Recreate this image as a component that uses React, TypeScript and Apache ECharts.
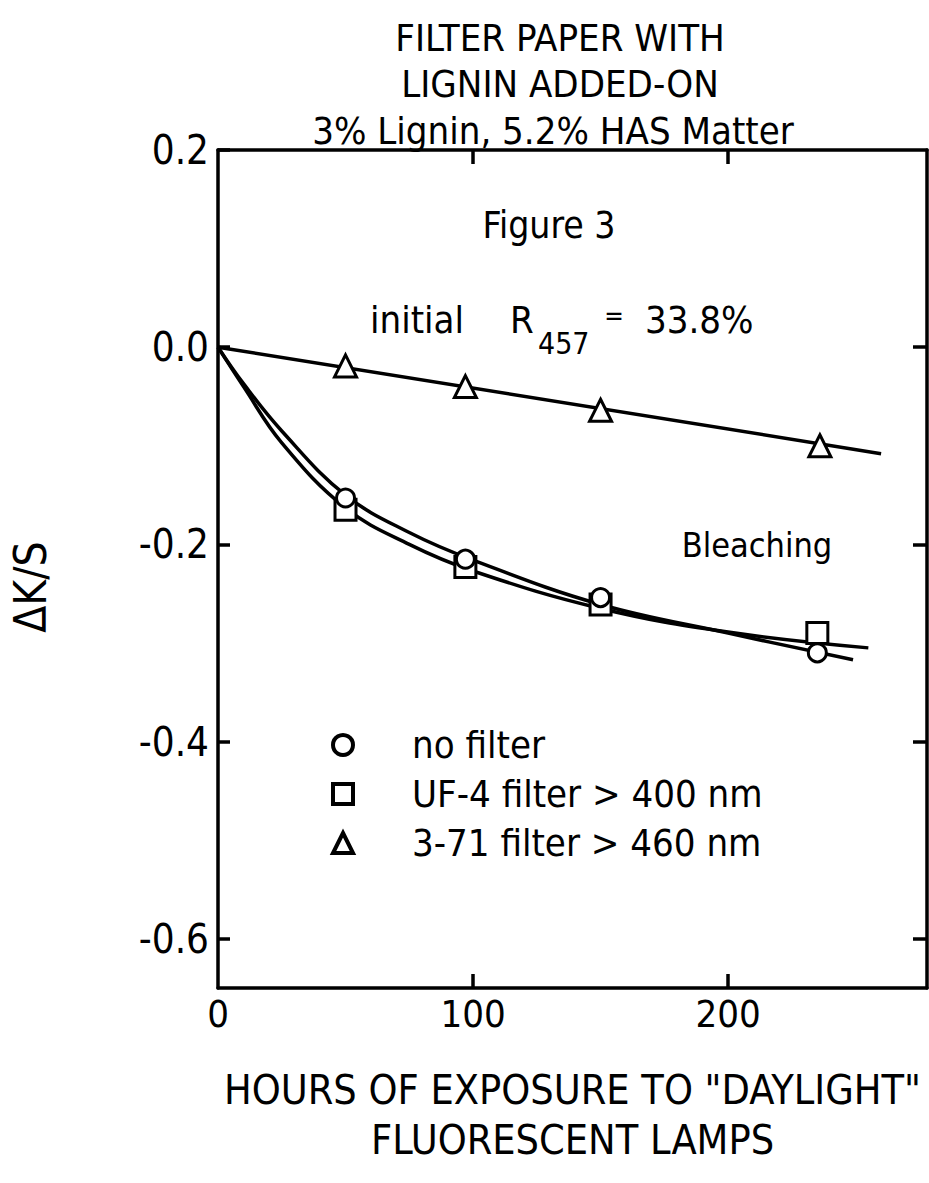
import React, { useEffect, useRef } from "react";
import * as echarts from "echarts";

const FONT = "'DejaVu Sans Condensed', 'DejaVu Sans', sans-serif";

// Measured points
const circleHours = [50, 97, 150, 235];
const circleValues = [-0.153, -0.215, -0.254, -0.310];
const squareHours = [50, 97, 150, 235];
const squareValues = [-0.165, -0.223, -0.261, -0.290];
const triangleHours = [50, 97, 150, 236];
const triangleValues = [-0.019, -0.040, -0.064, -0.100];

// Hand-drawn fitted curves
const circleFitHours = [0, 10, 25, 50, 75, 100, 150, 200, 249];
const circleFitValues = [0, -0.037, -0.085, -0.150, -0.188, -0.216, -0.261, -0.290, -0.317];
const squareFitHours = [0, 10, 25, 50, 75, 100, 150, 200, 255];
const squareFitValues = [0, -0.040, -0.097, -0.163, -0.200, -0.227, -0.265, -0.289, -0.305];
const triangleFitHours = [0, 260];
const triangleFitValues = [0, -0.108];

const xTickValues = [100, 200];
const xLabelValues = [0, 100, 200];
const yLabelValues = [-0.6, -0.4, -0.2, 0, 0.2];
const yRightTickValues = [-0.6, -0.4, -0.2, 0];

const seriesNames = ["no filter", "UF-4 filter > 400 nm", "3-71 filter > 460 nm"];

const pairs = (xs: number[], ys: number[]) => xs.map((x, i) => [x, ys[i]]);

export default function App() {
  const ref = useRef<HTMLDivElement>(null);
  useEffect(() => {
    document.body.style.margin = "0";
    if (!ref.current) return;
    const chart = echarts.init(ref.current, undefined, { renderer: "svg" });
    const axisLine = { show: true, onZero: false, lineStyle: { color: "#000", width: 3.5 } };
    const tickStyle = { color: "#000", width: 3.5 };
    const lineSeries = (xs: number[], ys: number[]) => ({
      type: "line",
      data: pairs(xs, ys),
      smooth: 0.4,
      showSymbol: false,
      symbol: "none",
      lineStyle: { color: "#000", width: 3.5 },
      z: 2,
      silent: true,
    });
    const markerStyle = { color: "#fff", borderColor: "#000", borderWidth: 3, opacity: 1 };
    const text = (t: string, x: number, y: number, size: number, align = "center") => ({
      type: "text",
      x,
      y,
      style: {
        text: t,
        fontSize: size,
        fontFamily: FONT,
        fill: "#000",
        align,
        verticalAlign: "middle",
      },
    });
    chart.setOption({
      animation: false,
      backgroundColor: "#fff",
      grid: { left: 214, right: 2, top: 150, bottom: 195 },
      xAxis: [
        {
          type: "value",
          position: "bottom",
          min: 0,
          max: 278,
          axisLine,
          axisTick: { show: true, inside: true, length: 14, lineStyle: tickStyle, customValues: xTickValues },
          axisLabel: { customValues: xLabelValues, fontSize: 38, color: "#000", fontFamily: FONT, margin: 7 },
          splitLine: { show: false },
          name: 'HOURS OF EXPOSURE TO "DAYLIGHT"\nFLUORESCENT LAMPS',
          nameLocation: "middle",
          nameGap: 77,
          nameTextStyle: { fontSize: 41, lineHeight: 50, color: "#000", fontFamily: FONT },
        },
        {
          type: "value",
          position: "top",
          min: 0,
          max: 278,
          axisLine,
          axisTick: { show: true, inside: true, length: 14, lineStyle: tickStyle, customValues: xTickValues },
          axisLabel: { show: false },
          splitLine: { show: false },
        },
      ],
      yAxis: [
        {
          type: "value",
          position: "left",
          min: -0.65,
          max: 0.2,
          axisLine,
          axisTick: { show: true, inside: true, length: 12, lineStyle: tickStyle, customValues: yLabelValues },
          axisLabel: {
            customValues: yLabelValues,
            fontSize: 40,
            color: "#000",
            fontFamily: FONT,
            margin: 9,
            formatter: (v: number) => v.toFixed(1),
          },
          splitLine: { show: false },
          name: "ΔK/S",
          nameLocation: "middle",
          nameRotate: 90,
          nameGap: 166,
          nameTextStyle: { fontSize: 44, color: "#000", fontFamily: FONT, padding: [0, 36, 0, 0] },
        },
        {
          type: "value",
          position: "right",
          min: -0.65,
          max: 0.2,
          axisLine,
          axisTick: { show: true, inside: true, length: 14, lineStyle: tickStyle, customValues: yRightTickValues },
          axisLabel: { show: false },
          splitLine: { show: false },
        },
      ],
      legend: {
        data: seriesNames,
        orient: "vertical",
        left: 331,
        top: 725,
        padding: 0,
        itemWidth: 20,
        itemHeight: 20,
        itemGap: 9,
        textStyle: { fontSize: 38, lineHeight: 40, color: "#000", fontFamily: FONT, padding: [0, 0, 0, 54] },
        itemStyle: { borderWidth: 4, borderColor: "#000", color: "#fff", opacity: 1 },
        selectedMode: false,
      },
      series: [
        lineSeries(circleFitHours, circleFitValues),
        lineSeries(squareFitHours, squareFitValues),
        lineSeries(triangleFitHours, triangleFitValues),
        {
          name: seriesNames[0],
          type: "scatter",
          symbol: "circle",
          symbolSize: 18,
          data: pairs(circleHours, circleValues),
          itemStyle: markerStyle,
          z: 5,
        },
        {
          name: seriesNames[1],
          type: "scatter",
          symbol: "rect",
          symbolSize: 21,
          data: pairs(squareHours, squareValues),
          itemStyle: markerStyle,
          z: 4,
        },
        {
          name: seriesNames[2],
          type: "scatter",
          symbol: "triangle",
          symbolSize: 22,
          data: pairs(triangleHours, triangleValues),
          itemStyle: markerStyle,
          z: 4,
        },
      ],
      graphic: [
        text("FILTER PAPER WITH", 560, 38, 38),
        text("LIGNIN ADDED-ON", 560, 84, 38),
        text("3% Lignin, 5.2% HAS Matter", 553, 131, 38),
        text("Figure 3", 549, 225, 37),
        text("initial", 370, 320, 38, "left"),
        text("R", 510, 320, 38, "left"),
        text("457", 538, 343, 30, "left"),
        text("=", 614, 316, 26, "center"),
        text("33.8%", 645, 320, 38, "left"),
        text("Bleaching", 757, 545, 34),
      ],
    });
    return () => chart.dispose();
  }, []);
  return <div ref={ref} style={{ width: 929, height: 1183 }} />;
}
